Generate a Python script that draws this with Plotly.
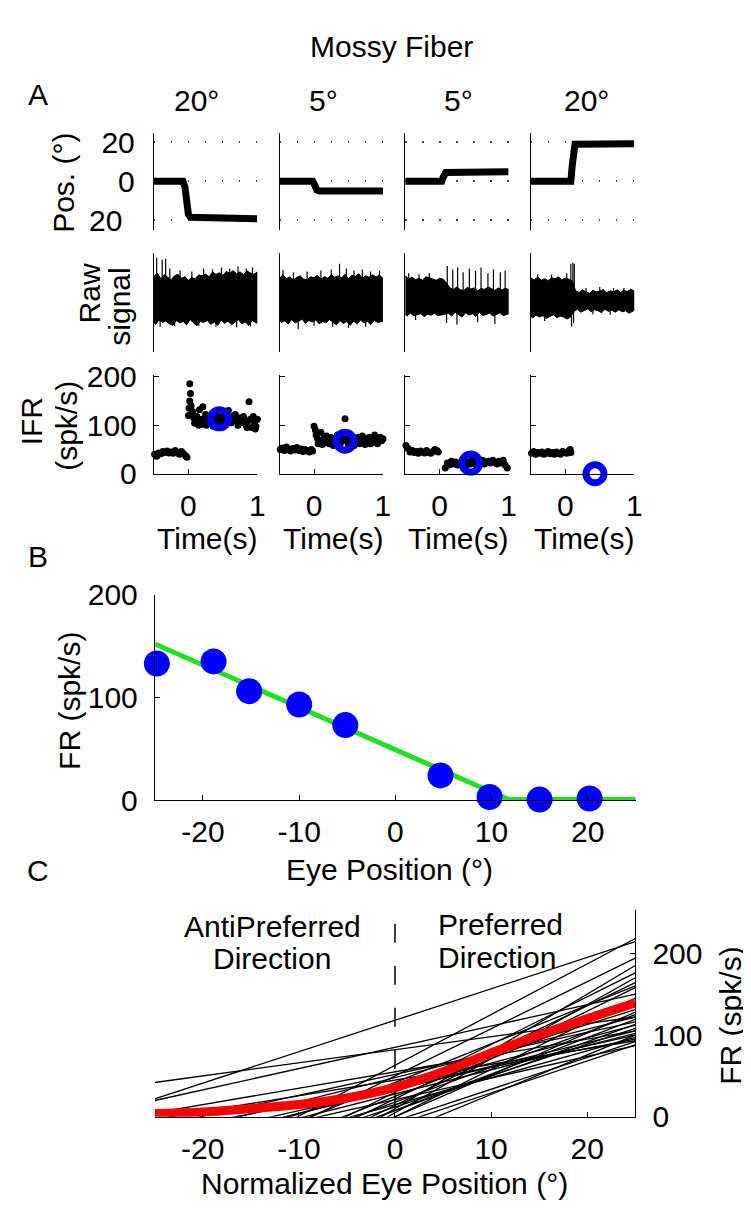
import plotly.graph_objects as go

W, H = 751, 1215
FONT = "Liberation Sans, Arial, Helvetica, sans-serif"
FS = 30

# ---------------- Panel A data ----------------
amplitude_labels = ["20°", "5°", "5°", "20°"]

# eye position (deg) traces per column
pos_t = [
    [-0.5, -0.08, -0.05, -0.03, 0.0, 0.03, 0.65, 0.67, 1.0],
    [-0.5, -0.02, 0.01, 0.04, 0.08, 1.0],
    [-0.5, 0.03, 0.05, 0.07, 0.09, 1.0],
    [-0.5, 0.08, 0.10, 0.12, 0.14, 1.0],
]
pos_deg = [
    [0, 0, -3, -11, -17, -18.5, -18.5, -19.3, -19.3],
    [0, 0, -2, -4.5, -5, -5],
    [0, 0, 2, 4, 4.5, 4.8],
    [0, 0, 8, 16, 19, 19.3],
]

# raw signal envelope (arbitrary units)
raw_t_top = [-0.5, -0.45, -0.4, -0.35, -0.3, -0.25, -0.2, -0.15, -0.1, -0.05, 0.0,
             0.05, 0.1, 0.15, 0.2, 0.25, 0.3, 0.35, 0.4, 0.45, 0.5, 0.55, 0.6, 0.65,
             0.7, 0.75, 0.8, 0.85, 0.9, 0.95, 1.0]
raw_t_bot = [-0.5, -0.475, -0.425, -0.375, -0.325, -0.275, -0.225, -0.175, -0.125, -0.075,
             -0.025, 0.025, 0.075, 0.125, 0.175, 0.225, 0.275, 0.325, 0.375, 0.425, 0.475,
             0.525, 0.575, 0.625, 0.675, 0.725, 0.775, 0.825, 0.875, 0.925, 1.0]
raw_top = [
    [54, 60, 49, 57, 52, 47, 55, 58, 50, 53, 46, 51, 49, 57, 55, 59, 53, 63, 58, 61, 56, 64, 60, 66, 59, 63, 57, 65, 61, 58, 63],
    [50, 57, 49, 53, 46, 52, 55, 48, 47, 53, 51, 56, 48, 53, 50, 57, 52, 55, 51, 58, 49, 56, 54, 59, 50, 55, 52, 57, 53, 56, 50],
    [55, 49, 52, 47, 50, 46, 53, 51, 49, 46, 50, 48, 40, 30, 27, 32, 26, 25, 31, 28, 30, 24, 29, 27, 32, 28, 25, 30, 26, 29, 27],
    [50, 47, 52, 46, 49, 45, 51, 49, 53, 47, 50, 48, 44, 24, 21, 26, 22, 19, 25, 22, 23, 27, 20, 24, 22, 26, 21, 25, 23, 27, 24],
]
raw_bot = [
    [-40, -45, -36, -41, -38, -44, -47, -37, -42, -39, -46, -35, -42, -48, -39, -41, -37, -45, -40, -47, -36, -43, -38, -46, -41, -35, -44, -40, -47, -37, -43],
    [-36, -41, -38, -44, -35, -42, -39, -34, -43, -37, -40, -36, -44, -39, -42, -35, -40, -46, -37, -43, -39, -47, -38, -44, -36, -42, -39, -45, -37, -41, -38],
    [-24, -28, -22, -27, -25, -23, -29, -24, -26, -22, -27, -25, -24, -22, -28, -20, -25, -30, -21, -26, -23, -29, -20, -27, -24, -22, -28, -25, -21, -27, -23],
    [-28, -32, -26, -30, -27, -33, -29, -25, -31, -28, -30, -34, -30, -18, -14, -20, -16, -13, -19, -15, -17, -21, -14, -18, -16, -20, -15, -19, -17, -22, -16],
]
spike_t = [
    [-0.46, -0.38, -0.33, -0.27, -0.12, 0.05, 0.22, 0.35, 0.48, 0.60, 0.72, 0.84, 0.93,
     -0.41, -0.20, 0.15, 0.40, 0.70, 0.90],
    [-0.45, -0.30, -0.10, 0.10, 0.25, 0.37, 0.47, 0.58, 0.70, 0.82, 0.95,
     -0.23, 0.00, 0.27, 0.50, 0.75],
    [-0.45, -0.30, -0.15, 0.11, 0.19, 0.26, 0.34, 0.43, 0.52, 0.60, 0.70, 0.78, 0.88, 0.95,
     -0.35, 0.10, 0.25, 0.55, 0.80],
    [-0.40, -0.20, 0.02, 0.08, 0.11, 0.13, 0.30, 0.50, 0.70, 0.85,
     -0.30, 0.09, 0.12, 0.40, 0.65],
]
spike_v = [
    [92, 88, 90, 70, 66, 64, 70, 68, 72, 70, 74, 70, 72,
     -50, -49, -48, -50, -51, -49],
    [67, 62, 64, 66, 68, 80, 70, 66, 68, 64, 66,
     -55, -48, -50, -52, -50],
    [60, 58, 60, 75, 68, 72, 62, 70, 65, 72, 60, 68, 62, 66,
     -36, -42, -45, -40, -44],
    [58, 57, 60, 80, 82, 80, 30, 32, 30, 30,
     -38, -50, -42, -24, -25],
]

# instantaneous firing rate (spk/s)
ifr_t = [
    [-0.49, -0.46, -0.43, -0.40, -0.37, -0.34, -0.31, -0.28, -0.25, -0.22, -0.19, -0.16, -0.13, -0.10, -0.07, -0.04, -0.02,
     0.00, 0.01, 0.02, 0.02, 0.03, 0.04, 0.05, 0.06, 0.08, 0.09, 0.10, 0.12, 0.14, 0.15, 0.16, 0.18, 0.20, 0.21, 0.22, 0.24,
     0.25, 0.26, 0.28, 0.30, 0.32, 0.34, 0.35, 0.36, 0.38, 0.40, 0.42, 0.44, 0.46, 0.48, 0.50, 0.52, 0.54, 0.56, 0.58, 0.60,
     0.62, 0.64, 0.66, 0.68, 0.70, 0.72, 0.74, 0.76, 0.78, 0.80, 0.82, 0.84, 0.85, 0.86, 0.88, 0.90, 0.92, 0.94, 0.96, 0.97,
     0.98, 1.00],
    [-0.49, -0.46, -0.43, -0.40, -0.37, -0.34, -0.31, -0.28, -0.25, -0.22, -0.19, -0.16, -0.13, -0.10, -0.07, -0.04, -0.02,
     0.00, 0.02, 0.03, 0.05, 0.06, 0.08, 0.10, 0.12, 0.14, 0.16, 0.18, 0.20, 0.22, 0.24, 0.26, 0.28, 0.30, 0.32, 0.34, 0.36,
     0.38, 0.40, 0.42, 0.45, 0.48, 0.50, 0.52, 0.54, 0.56, 0.58, 0.60, 0.62, 0.64, 0.66, 0.68, 0.70, 0.72, 0.74, 0.76, 0.78,
     0.80, 0.82, 0.84, 0.86, 0.88, 0.90, 0.92, 0.94, 0.96, 0.98, 1.00],
    [-0.49, -0.46, -0.43, -0.40, -0.37, -0.34, -0.31, -0.28, -0.25, -0.22, -0.19, -0.16, -0.13, -0.10, -0.07, -0.04, -0.02,
     0.08, 0.11, 0.14, 0.17, 0.20, 0.23, 0.26, 0.29, 0.32, 0.35, 0.38, 0.41, 0.44, 0.47, 0.50, 0.53, 0.56, 0.59, 0.62, 0.65,
     0.68, 0.71, 0.74, 0.77, 0.80, 0.83, 0.86, 0.89, 0.92, 0.95, 0.98],
    [-0.49, -0.46, -0.43, -0.40, -0.37, -0.34, -0.31, -0.28, -0.25, -0.22, -0.19, -0.16, -0.13, -0.10, -0.07, -0.04, -0.01,
     0.02, 0.05, 0.07, 0.08],
]
ifr_v = [
    [40, 36, 43, 41, 46, 44, 47, 43, 45, 42, 48, 44, 40, 46, 41, 37, 34,
     120, 135, 185, 150, 165, 140, 122, 128, 115, 104, 110, 118, 105, 100, 132, 112, 102, 138, 108, 115,
     122, 100, 112, 118, 105, 110, 125, 98, 115, 120, 108, 112, 104, 118, 110, 125, 108, 115, 130, 112,
     105, 118, 110, 122, 108, 100, 115, 112, 105, 118, 110, 100, 95, 108, 148, 112, 95, 118, 105, 92,
     98, 112],
    [50, 53, 48, 55, 50, 47, 52, 49, 54, 48, 51, 46, 50, 48, 45, 50, 47,
     98, 90, 80, 72, 62, 68, 85, 60, 72, 65, 78, 70, 62, 75, 68, 58, 72, 65, 80, 70,
     62, 75, 68, 113, 72, 60, 70, 78, 65, 58, 72, 68, 75, 62, 70, 78, 65, 60, 72, 68,
     75, 62, 70, 65, 80, 72, 62, 70, 75, 68, 72],
    [58, 52, 45, 48, 44, 46, 42, 47, 45, 43, 48, 44, 42, 46, 50, 48, 45,
     12, 22, 18, 26, 20, 24, 18, 22, 25, 20, 16, 24, 20, 28, 22, 18, 25, 22, 28, 20,
     24, 26, 22, 28, 24, 20, 26, 22, 28, 18, 12],
    [42, 46, 40, 44, 42, 45, 40, 43, 46, 41, 44, 40, 45, 42, 40, 46, 44,
     42, 47, 50, 44],
]
ring_t = [0.45, 0.45, 0.45, 0.43]
ring_v = [113, 67, 22, 0]

# ---------------- Panel B data ----------------
b_pos = [-24.8, -18.9, -15.2, -10.0, -5.2, 4.7, 9.8, 15.0, 20.2]
b_fr = [133, 135, 106, 93, 73, 24, 3, 0.5, 1.5]
b_fit_x = [-25, 11.8, 25]
b_fit_y = [152, 0.5, 0.5]
deg_ticks = [-20, -10, 0, 10, 20]
deg_ticktext = ["-20", "-10", "0", "10", "20"]

# ---------------- Panel C data ----------------
# each cell's rate-position line: value at -25 deg and at +25 deg
c_left = [22, 42, 20, -92, 5, -94, -3, -51, -116, -120, -130, -103, -145, -98, -67, -90,
          -45, -39, -32, -19, -142, -42, -165, -89, -46, -160, -26, -102, -84, -76, -128, -12, -108]
c_right = [214, 122, 150, 218, 105, 194, 93, 131, 176, 164, 158, 119, 145, 113, 97, 140,
           87, 105, 100, 95, 100, 112, 185, 125, 102, 170, 122, 92, 108, 160, 128, 116, 88]
c_ends = [-25, 25]
pop_x = [-25, -20, -15, -10, -5, 0, 5, 10, 15, 20, 25]
pop_fr = [4, 6, 10, 15, 23, 36, 55, 78, 100, 120, 139]
div_fr = [236, 0]

# ---------------- helpers ----------------
def dx(a, b):
    return [a / W, b / W]

def dy(top, bottom):
    return [1 - bottom / H, 1 - top / H]

layout_axes = {}
traces = []
annotations = []
counter = [0]

base = dict(showline=True, linecolor="black", linewidth=1.3, ticks="inside",
            tickcolor="black", ticklen=5, tickwidth=1.3, showgrid=False,
            zeroline=False, tickfont=dict(size=FS, family=FONT, color="black"),
            fixedrange=True)

def new_axes(xdom, ydom, xkw, ykw):
    counter[0] += 1
    k = counter[0]
    sx = "" if k == 1 else str(k)
    xa = dict(base); xa.update(domain=xdom, anchor="y" + sx); xa.update(xkw)
    ya = dict(base); ya.update(domain=ydom, anchor="x" + sx); ya.update(ykw)
    layout_axes["xaxis" + sx] = xa
    layout_axes["yaxis" + sx] = ya
    return "x" + sx, "y" + sx

def ann(text, x, y, xanchor="center", angle=0, size=FS):
    annotations.append(dict(text=text, x=x / W, y=1 - y / H, xref="paper", yref="paper",
                            xanchor=xanchor, yanchor="middle", showarrow=False,
                            textangle=angle, font=dict(size=size, family=FONT, color="black")))

col_left = [147.5, 274.5, 401.5, 528.5]
col_w = 104.5
POS_ROW = (110.7, 210.7)
RAW_ROW = (235, 336)
IFR_ROW = (360, 461.7)

for c in range(4):
    xd = dx(col_left[c], col_left[c] + col_w)
    first = c == 0
    # position row
    xr, yr = new_axes(xd, dy(*POS_ROW),
                      dict(visible=False, range=[-0.5, 1.0]),
                      dict(range=[-25, 25], ticks="", tickvals=[-20, 0, 20],
                           ticktext=["", "0", "20"], showticklabels=first,
                           showgrid=True, gridcolor="#444", gridwidth=1.5,
                           griddash="1.5px,15.5px", ticklabelstandoff=12))
    traces.append(go.Scatter(x=pos_t[c], y=pos_deg[c], mode="lines", xaxis=xr, yaxis=yr,
                             line=dict(color="black", width=7), hoverinfo="skip"))
    # raw row
    xr, yr = new_axes(xd, dy(*RAW_ROW),
                      dict(visible=False, range=[-0.5, 1.0]),
                      dict(range=[-101, 101], ticks="", showticklabels=False))
    traces.append(go.Scatter(x=raw_t_top + raw_t_bot[::-1], y=raw_top[c] + raw_bot[c][::-1],
                             mode="lines", fill="toself", fillcolor="black",
                             line=dict(color="black", width=1), xaxis=xr, yaxis=yr,
                             hoverinfo="skip"))
    sx, sy = [], []
    for t, v in zip(spike_t[c], spike_v[c]):
        sx += [t, t, None]
        sy += [0, v, None]
    traces.append(go.Scatter(x=sx, y=sy, mode="lines", line=dict(color="black", width=1.2),
                             xaxis=xr, yaxis=yr, hoverinfo="skip"))
    # IFR row
    xr, yr = new_axes(xd, dy(*IFR_ROW),
                      dict(range=[-0.5, 1.0], tickvals=[0, 1], ticktext=["0", "1"],
                           ticklabelstandoff=5),
                      dict(range=[0, 203.4], tickvals=[0, 100, 200], showticklabels=first,
                           ticklabelstandoff=10))
    traces.append(go.Scatter(x=ifr_t[c], y=ifr_v[c], mode="markers", xaxis=xr, yaxis=yr,
                             marker=dict(color="black", size=7), cliponaxis=False,
                             hoverinfo="skip"))
    traces.append(go.Scatter(x=[ring_t[c]], y=[ring_v[c]], mode="markers", xaxis=xr, yaxis=yr,
                             marker=dict(symbol="circle-open", color="#0000ff", size=18,
                                         line=dict(width=7, color="#0000ff")),
                             cliponaxis=False, hoverinfo="skip"))
    ann(amplitude_labels[c], [191, 318.5, 455, 585][c], 78)
    ann("Time(s)", col_left[c] + col_w / 2 + 2, 528)

# ---------------- Panel B ----------------
xr, yr = new_axes(dx(148.5, 634.5), dy(586, 797.4),
                  dict(range=[-25, 25], tickvals=deg_ticks, ticktext=deg_ticktext,
                       ticklabelstandoff=5),
                  dict(range=[0, 200], tickvals=[0, 100, 200], ticklabelstandoff=10))
traces.append(go.Scatter(x=b_fit_x, y=b_fit_y, mode="lines", xaxis=xr, yaxis=yr,
                         line=dict(color="#22e022", width=5), hoverinfo="skip"))
traces.append(go.Scatter(x=b_pos, y=b_fr, mode="markers", xaxis=xr, yaxis=yr,
                         marker=dict(color="#0000ff", size=26), cliponaxis=False,
                         hoverinfo="skip"))

# ---------------- Panel C ----------------
xr, yr = new_axes(dx(148.3, 634), dy(910.7, 1123.3),
                  dict(range=[-25, 25], tickvals=deg_ticks, ticktext=deg_ticktext,
                       ticklabelstandoff=5),
                  dict(range=[0, 252.5], side="right", tickvals=[0, 100, 200],
                       ticklabelstandoff=10))
for lv, rv in zip(c_left, c_right):
    traces.append(go.Scatter(x=c_ends, y=[lv, rv], mode="lines", xaxis=xr, yaxis=yr,
                             line=dict(color="black", width=1.3), hoverinfo="skip"))
traces.append(go.Scatter(x=[0, 0], y=div_fr, mode="lines", xaxis=xr, yaxis=yr,
                         line=dict(color="black", width=1.5, dash="19px,23px"),
                         hoverinfo="skip"))
traces.append(go.Scatter(x=pop_x, y=pop_fr, mode="lines", xaxis=xr, yaxis=yr,
                         line=dict(color="#ff0000", width=9, shape="spline"),
                         hoverinfo="skip"))

# ---------------- text ----------------
ann("Mossy Fiber", 388, 22)
ann("A", 30, 72)
ann("B", 30, 547)
ann("C", 30, 870)
ann("Pos. (°)", 56, 162, angle=-90)
ann("20", 117, 200.7, xanchor="right")
ann("Raw", 82, 276, angle=-90)
ann("signal", 113, 290, angle=-90)
ann("IFR", 24, 408, angle=-90)
ann("(spk/s)", 59, 412, angle=-90)
ann("FR (spk/s)", 62, 695, angle=-90)
ann("Eye Position (°)", 386, 869)
ann("Normalized Eye Position (°)", 381, 1192)
ann("FR (spk/s)", 730, 1019, angle=-90)
ann("AntiPreferred", 267, 927)
ann("Direction", 267, 960)
ann("Preferred", 433, 925, xanchor="left")
ann("Direction", 433, 959, xanchor="left")

fig = go.Figure(data=traces)
fig.update_layout(width=W, height=H, margin=dict(l=0, r=0, t=0, b=0),
                  paper_bgcolor="white", plot_bgcolor="rgba(0,0,0,0)",
                  showlegend=False, annotations=annotations,
                  font=dict(family=FONT, size=FS, color="black"), **layout_axes)
fig.write_html("out.html")
